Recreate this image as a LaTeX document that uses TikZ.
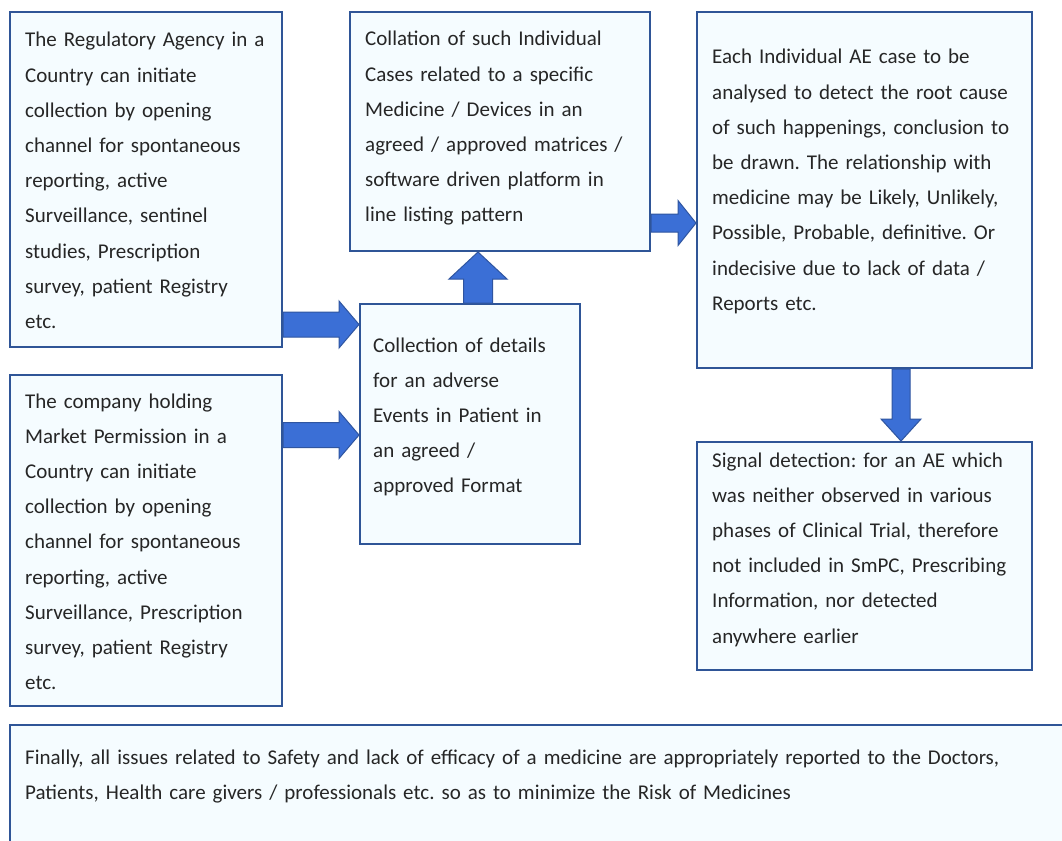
\documentclass[tikz,border=0pt]{standalone}
\usepackage{fontspec}
\setmainfont{Carlito}
\frenchspacing
\usetikzlibrary{calc}
\definecolor{boxline}{HTML}{2F5597}
\definecolor{boxfill}{HTML}{F5FCFF}
\definecolor{arrfill}{HTML}{3B6FD6}
\definecolor{arrline}{HTML}{2F55A0}
\definecolor{txtcol}{HTML}{262626}
\tikzset{
  box/.style={draw=boxline, fill=boxfill, line width=2pt, inner sep=0, anchor=north west},
  txt/.style={anchor=base west, inner sep=0, text width=1040pt, align=left, text=txtcol,
    font=\fontsize{21}{35.2}\selectfont},
  fatarrow/.style n args={3}{fill=arrfill, draw=arrline, line width=1pt, line join=miter,
    to path={
      ($(\tikztostart)!#1!90:(\tikztotarget)$)
      -- ($($(\tikztotarget)!#3!(\tikztostart)$)!#1!90:(\tikztotarget)$)
      -- ($($(\tikztotarget)!#3!(\tikztostart)$)!#2!90:(\tikztotarget)$)
      -- (\tikztotarget)
      -- ($($(\tikztotarget)!#3!(\tikztostart)$)!#2!-90:(\tikztotarget)$)
      -- ($($(\tikztotarget)!#3!(\tikztostart)$)!#1!-90:(\tikztotarget)$)
      -- ($(\tikztostart)!#1!-90:(\tikztotarget)$)
      -- cycle}}
}
\begin{document}
\begin{tikzpicture}[x=1pt, y=-1pt]
\clip (0,0) rectangle (1062,840);
\fill[white] (0,0) rectangle (1062,840);

% boxes
\node[box, minimum width=272pt, minimum height=335pt] (regA) at (9,11) {};
\node[box, minimum width=272pt, minimum height=331pt] (regB) at (9,374) {};
\node[box, minimum width=220pt, minimum height=240pt] (coll) at (359,303) {};
\node[box, minimum width=300pt, minimum height=239pt] (colla) at (349,11) {};
\node[box, minimum width=335pt, minimum height=356pt] (eval) at (696,11) {};
\node[box, minimum width=335pt, minimum height=228pt] (sig) at (696,441) {};
\node[box, minimum width=1080pt, minimum height=160pt] (fin) at (9,724) {};

% texts
\node[txt] (regAtxt) at ([shift={(16pt,-36pt)}]regA.north west) {The Regulatory Agency in a\\Country can initiate\\collection by opening\\channel for spontaneous\\reporting, active\\Surveillance, sentinel\\studies, Prescription\\survey, patient Registry\\etc.};
\node[txt] (regBtxt) at ([shift={(16pt,-34pt)}]regB.north west) {The company holding\\Market Permission in a\\Country can initiate\\collection by opening\\channel for spontaneous\\reporting, active\\Surveillance, Prescription\\survey, patient Registry\\etc.};
\node[txt] (colltxt) at ([shift={(14pt,-49pt)}]coll.north west) {Collection of details\\for an adverse\\Events in Patient in\\an agreed /\\approved Format};
\node[txt] (collatxt) at ([shift={(16pt,-35pt)}]colla.north west) {Collation of such Individual\\Cases related to a specific\\Medicine / Devices in an\\agreed / approved matrices /\\software driven platform in\\line listing pattern};
\node[txt] (evaltxt) at ([shift={(16pt,-53pt)}]eval.north west) {Each Individual AE case to be\\analysed to detect the root cause\\of such happenings, conclusion to\\be drawn. The relationship with\\medicine may be Likely, Unlikely,\\Possible, Probable, definitive. Or\\indecisive due to lack of data /\\Reports etc.};
\node[txt] (sigtxt) at ([shift={(16pt,-26pt)}]sig.north west) {Signal detection: for an AE which\\was neither observed in various\\phases of Clinical Trial, therefore\\not included in SmPC, Prescribing\\Information, nor detected\\anywhere earlier};
\node[txt] (fintxt) at ([shift={(16pt,-40pt)}]fin.north west) {Finally, all issues related to Safety and lack of efficacy of a medicine are appropriately reported to the Doctors,\\Patients, Health care givers / professionals etc. so as to minimize the Risk of Medicines};

% edges
\coordinate (a1) at ([yshift=23.5pt]regA.south east);
\coordinate (a2) at ([yshift=-61pt]regB.north east);
\coordinate (a3) at ([xshift=8pt]coll.north);
\coordinate (a4) at ([yshift=29pt]colla.south east);
\coordinate (a5) at ([xshift=36.5pt]eval.south);
\draw[fatarrow={12.5pt}{23.5pt}{20pt}] (a1) to (coll.west |- a1); % regA to coll
\draw[fatarrow={12.5pt}{23.5pt}{20pt}] (a2) to (coll.west |- a2); % regB to coll
\draw[fatarrow={14.5pt}{29pt}{27pt}] (a3) to (a3 |- colla.south); % coll to colla
\draw[fatarrow={9pt}{22.5pt}{18pt}] (a4) to (eval.west |- a4); % colla to eval
\draw[fatarrow={9pt}{20pt}{22pt}] (a5) to (a5 |- sig.north); % eval to sig
\end{tikzpicture}
\end{document}
